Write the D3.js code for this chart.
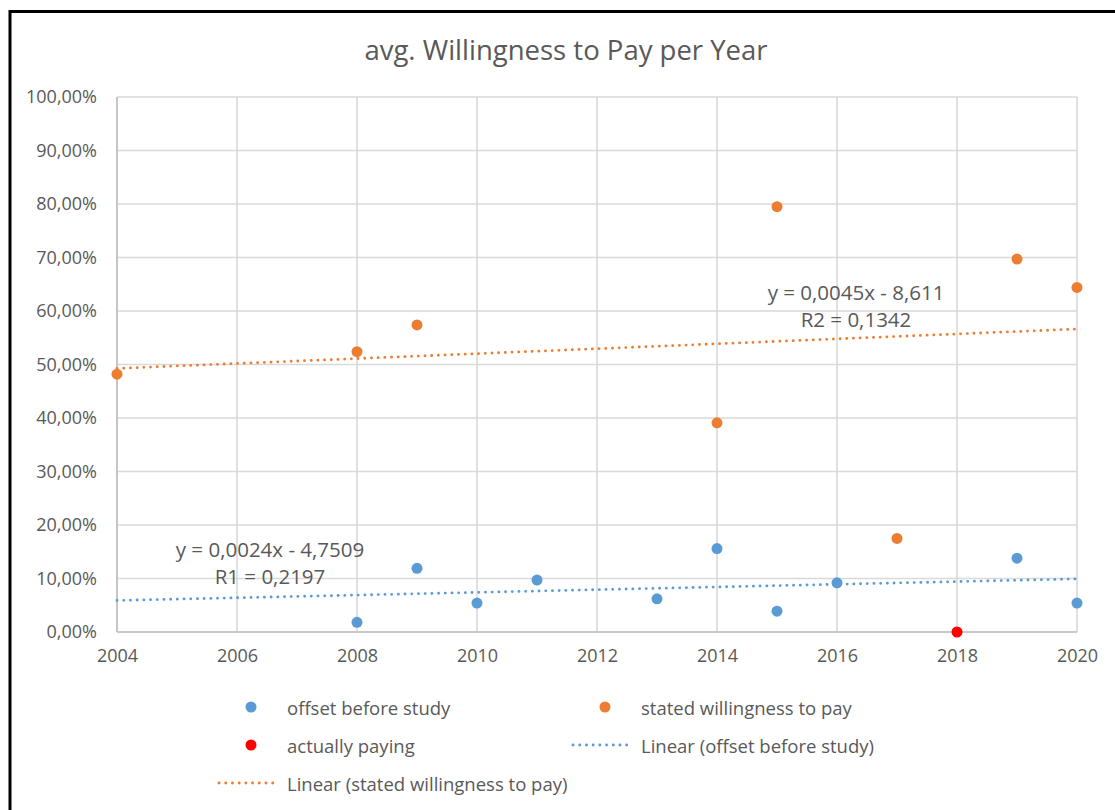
<!DOCTYPE html>
<html>
<head>
<meta charset="utf-8">
<script src="https://cdn.jsdelivr.net/npm/d3@7/dist/d3.min.js"></script>
<style>
  html, body { margin: 0; padding: 0; background: #fff; }
  svg { display: block; font-family: "Open Sans", "Liberation Sans", sans-serif; }
</style>
</head>
<body>
<svg id="chart" width="1115" height="810"></svg>
<script>
// ---- data (share values as fractions) ----
const offsetYears = [2008, 2009, 2010, 2011, 2013, 2014, 2015, 2016, 2019, 2020];
const offsetValues = [0.018, 0.119, 0.054, 0.097, 0.062, 0.156, 0.039, 0.092, 0.138, 0.054];

const statedYears = [2004, 2008, 2009, 2014, 2015, 2017, 2019, 2020];
const statedValues = [0.482, 0.524, 0.574, 0.391, 0.795, 0.175, 0.697, 0.644];

const payingYears = [2018];
const payingValues = [0.0];

const xTicks = [2004, 2006, 2008, 2010, 2012, 2014, 2016, 2018, 2020];
const yTicks = [0, 0.1, 0.2, 0.3, 0.4, 0.5, 0.6, 0.7, 0.8, 0.9, 1.0];

const titleText = "avg. Willingness to Pay per Year";
const offsetEquation = ["y = 0,0024x - 4,7509", "R1 = 0,2197"];
const statedEquation = ["y = 0,0045x - 8,611", "R2 = 0,1342"];

const colors = { offset: "#5b9bd5", stated: "#ed7d31", paying: "#ff0000" };
const textColor = "#595959";

// ---- layout ----
const svg = d3.select("#chart");
const plot = { left: 117, right: 1077, top: 97, bottom: 632 };

const x = d3.scaleLinear().domain([2004, 2020]).range([plot.left, plot.right]);
const y = d3.scaleLinear().domain([0, 1]).range([plot.bottom, plot.top]);

const pct = d3.formatLocale({ decimal: ",", thousands: ".", grouping: [3], currency: ["", "€"] }).format(".2%");

// outer frame
svg.append("rect")
  .attr("x", 10).attr("y", 11.5)
  .attr("width", 1200).attr("height", 900)
  .attr("fill", "none").attr("stroke", "#000").attr("stroke-width", 3);

// title
svg.append("text")
  .attr("x", 566).attr("y", 49)
  .attr("text-anchor", "middle").attr("dominant-baseline", "central")
  .attr("fill", textColor).attr("font-size", 27.5)
  .text(titleText);

// gridlines
const grid = svg.append("g").attr("stroke", "#d9d9d9").attr("stroke-width", 1.6);
grid.selectAll("line.h").data(yTicks).join("line")
  .attr("x1", plot.left).attr("x2", plot.right)
  .attr("y1", d => y(d)).attr("y2", d => y(d));
grid.selectAll("line.v").data(xTicks).join("line")
  .attr("x1", d => x(d)).attr("x2", d => x(d))
  .attr("y1", plot.top).attr("y2", plot.bottom);

// axis lines
svg.append("line").attr("x1", plot.left).attr("x2", plot.left)
  .attr("y1", plot.top).attr("y2", plot.bottom)
  .attr("stroke", "#bfbfbf").attr("stroke-width", 1.6);
svg.append("line").attr("x1", plot.left).attr("x2", plot.right)
  .attr("y1", plot.bottom).attr("y2", plot.bottom)
  .attr("stroke", "#bfbfbf").attr("stroke-width", 1.6);

// axes (labels only)
const yAxis = svg.append("g").attr("transform", `translate(${plot.left},0)`)
  .call(d3.axisLeft(y).tickValues(yTicks).tickFormat(pct).tickSize(0).tickPadding(20));
const xAxis = svg.append("g").attr("transform", `translate(0,${plot.bottom})`)
  .call(d3.axisBottom(x).tickValues(xTicks).tickFormat(d3.format("d")).tickSize(0).tickPadding(17));
[yAxis, xAxis].forEach(a => {
  a.select(".domain").remove();
  a.selectAll("text").attr("fill", textColor).attr("font-size", 18)
    .attr("font-family", "\"Open Sans\", sans-serif");
});

// least-squares trend lines
function fit(xs, ys) {
  const mx = d3.mean(xs), my = d3.mean(ys);
  const sxy = d3.sum(xs, (v, i) => (v - mx) * (ys[i] - my));
  const sxx = d3.sum(xs, v => (v - mx) * (v - mx));
  const b = sxy / sxx;
  return t => my + b * (t - mx);
}
const trendLine = d3.line().x(d => x(d[0])).y(d => y(d[1]));
function drawTrend(xs, ys, color) {
  const f = fit(xs, ys);
  const pts = x.domain().map(t => [t, f(t)]);
  svg.append("path").attr("d", trendLine(pts))
    .attr("fill", "none").attr("stroke", color).attr("stroke-width", 2.8)
    .attr("stroke-linecap", "round").attr("stroke-dasharray", "0.1 6.6");
}
drawTrend(offsetYears, offsetValues, colors.offset);
drawTrend(statedYears, statedValues, colors.stated);

// scatter points
function drawPoints(xs, ys, color) {
  svg.append("g").selectAll("circle").data(xs.map((v, i) => [v, ys[i]])).join("circle")
    .attr("cx", d => x(d[0])).attr("cy", d => y(d[1])).attr("r", 5.5)
    .attr("fill", color);
}
drawPoints(offsetYears, offsetValues, colors.offset);
drawPoints(statedYears, statedValues, colors.stated);
drawPoints(payingYears, payingValues, colors.paying);

// trend equations
function drawEquation(lines, cx, cy) {
  svg.append("g").selectAll("text").data(lines).join("text")
    .attr("x", cx).attr("y", (d, i) => cy + i * 27)
    .attr("text-anchor", "middle").attr("dominant-baseline", "central")
    .attr("fill", textColor).attr("font-size", 20.5)
    .text(d => d);
}
drawEquation(offsetEquation, 270, 549);
drawEquation(statedEquation, 856, 292);

// legend
const legendItems = [
  { label: "offset before study", color: colors.offset, kind: "dot", x: 251, y: 707 },
  { label: "stated willingness to pay", color: colors.stated, kind: "dot", x: 605, y: 707 },
  { label: "actually paying", color: colors.paying, kind: "dot", x: 251, y: 745 },
  { label: "Linear (offset before study)", color: colors.offset, kind: "line", x: 605, y: 745 },
  { label: "Linear (stated willingness to pay)", color: colors.stated, kind: "line", x: 251, y: 783 }
];
const lg = svg.append("g").selectAll("g").data(legendItems).join("g");
lg.filter(d => d.kind === "dot").append("circle")
  .attr("cx", d => d.x).attr("cy", d => d.y).attr("r", 5.5).attr("fill", d => d.color);
lg.filter(d => d.kind === "line").append("line")
  .attr("x1", d => d.x - 32).attr("x2", d => d.x + 24)
  .attr("y1", d => d.y).attr("y2", d => d.y)
  .attr("stroke", d => d.color).attr("stroke-width", 2.8)
  .attr("stroke-linecap", "round").attr("stroke-dasharray", "0.1 6.6");
lg.append("text")
  .attr("x", d => d.x + 36).attr("y", d => d.y)
  .attr("dominant-baseline", "central")
  .attr("fill", textColor).attr("font-size", 18.5)
  .text(d => d.label);
</script>
</body>
</html>
